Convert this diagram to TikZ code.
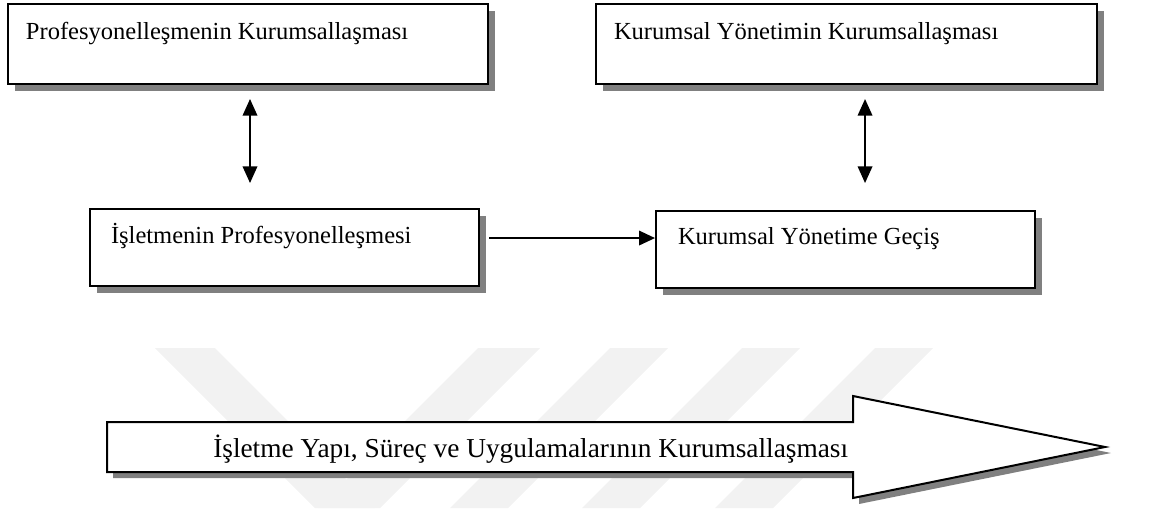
\documentclass[tikz,border=0pt]{standalone}
\usepackage{fontspec}
\setmainfont{Liberation Serif}
\usetikzlibrary{shadows,arrows.meta,calc}
\definecolor{shadowgray}{gray}{0.5}
\definecolor{markgray}{gray}{0.95}
\begin{document}
\begin{tikzpicture}[x=0.75pt,y=-0.75pt,
  box/.style={draw=black, line width=1.5pt, fill=white, anchor=north west,
    align=flush left, inner ysep=0pt, font=\fontsize{18.4}{22}\selectfont,
    drop shadow={shadow xshift=5.25pt, shadow yshift=-5.25pt,
      fill=shadowgray, opacity=1}},
  link/.style={line width=1.1pt,
    {Triangle[width=11pt,length=12.5pt]}-{Triangle[width=11pt,length=12.5pt]}},
  flowlink/.style={line width=1.1pt, -{Triangle[width=11pt,length=12pt]}},
  bigarrow/.style={draw=black, line width=1.5pt, fill=white,
    drop shadow={shadow xshift=4.5pt, shadow yshift=-4.5pt,
      fill=shadowgray, opacity=1}},
  band/.style={fill=markgray, draw=none}
]
\useasboundingbox (0,0) rectangle (1149,508);

% faint background emblem
\fill[band] (155,348) -- (215,348) -- (375,508) -- (315,508) -- cycle;
\fill[band] (478,348) -- (540,348) -- (380,508) -- (318,508) -- cycle;
\fill[band] (610,348) -- (668,348) -- (508,508) -- (450,508) -- cycle;
\fill[band] (742,348) -- (800,348) -- (640,508) -- (582,508) -- cycle;
\fill[band] (875,348) -- (933,348) -- (773,508) -- (715,508) -- cycle;

% boxes
\node[box, inner xsep=13.5pt, text width=333pt, text height=26.25pt, text depth=33.75pt]
  (b1) at (7,3) {Profesyonelleşmenin Kurumsallaşması};
\node[box, inner xsep=13.5pt, text width=348.75pt, text height=26.25pt, text depth=33.75pt]
  (b2) at (595,3) {Kurumsal Yönetimin Kurumsallaşması};
\node[box, inner xsep=15.75pt, text width=260.25pt, text height=25.5pt, text depth=32.25pt]
  (b3) at (89,208) {İşletmenin Profesyonelleşmesi};
\node[box, inner xsep=16.5pt, text width=251.25pt, text height=24.75pt, text depth=33pt]
  (b4) at (655,210) {Kurumsal Yönetime Geçiş};

% connectors
\draw[link, shorten <=10.5pt, shorten >=18.75pt]
  ([xshift=1.5pt]b1.south) -- ([xshift=1.5pt]b1.south |- b3.north);
\draw[link, shorten <=10.5pt, shorten >=20.25pt]
  ([xshift=13.9pt]b2.south) -- ([xshift=13.9pt]b2.south |- b4.north);
\draw[flowlink, shorten <=6.75pt]
  ([yshift=7.1pt]b3.east) -- ([yshift=7.1pt]b3.east -| b4.west);

% process arrow
\draw[bigarrow] (107,422) -- (853,422) -- (853,396) -- (1105,447)
  -- (853,498) -- (853,472) -- (107,472) -- cycle;
\node[anchor=base west, inner sep=0pt, font=\fontsize{20.5}{24}\selectfont]
  (flow) at (213,457) {İşletme Yapı, Süreç ve Uygulamalarının Kurumsallaşması};
\end{tikzpicture}
\end{document}
